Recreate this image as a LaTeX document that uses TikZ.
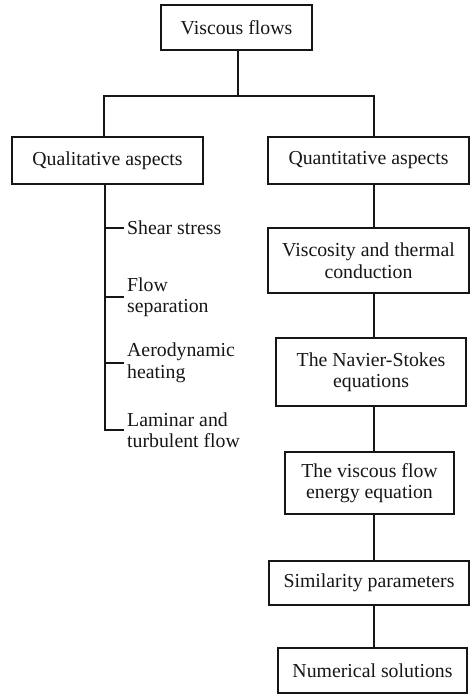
\documentclass[tikz,border=0pt]{standalone}
\usepackage{fontspec}
\setmainfont{Liberation Serif}
\usetikzlibrary{positioning,calc}
\definecolor{ink}{HTML}{161616}

\begin{document}
\begin{tikzpicture}[x=1pt,y=-1pt,font=\fontsize{19.8}{21.5}\selectfont]
    \tikzset{
      box/.style={draw=ink,line width=1.5pt,align=center,inner sep=0pt,text=ink},
      link/.style={draw=ink,line width=2.6pt},
      item/.style={anchor=west,align=left,inner sep=3pt,text=ink}
    }
    \useasboundingbox (0,0) rectangle (470,695);
    \node[box,minimum width=151pt,minimum height=45pt] (top) at (236.5,27.5) {Viscous flows};
    \node[box,minimum width=191pt,minimum height=47pt] (qual) at (107.5,160.5) {Qualitative aspects};
    \node[box,minimum width=201pt,minimum height=47pt] (quant) at (368.5,160.5) {Quantitative aspects};
    \node[box,minimum width=201pt,minimum height=65pt] (visc) at (368.5,260.5) {Viscosity and thermal\\conduction};
    \node[box,minimum width=190pt,minimum height=68pt] (ns) at (371,372) {The Navier-Stokes\\equations};
    \node[box,minimum width=169pt,minimum height=62pt] (energy) at (369.5,483) {The viscous flow\\energy equation};
    \node[box,minimum width=200pt,minimum height=44pt] (sim) at (369,583) {Similarity parameters};
    \node[box,minimum width=189pt,minimum height=45pt] (num) at (372.5,670.5) {Numerical solutions};
    \coordinate (barL) at (104,96);
    \coordinate (barR) at (374,96);
    \coordinate (spine) at (105,184);
    \draw[link] (top.south -| 238,0) -- (barL -| 238,0);
    \draw[link] (barL |- qual.north) -- (barL) -- (barR) -- (barR |- quant.north);
    \foreach \a/\b in {quant/visc,visc/ns,ns/energy,energy/sim,sim/num}
      \draw[link] (\a.south -| barR) -- (\b.north -| barR);
    % side items under the qualitative box
    \foreach \n/\y/\t in {shear/228/Shear stress,flow/297/Flow\\separation,aero/363/Aerodynamic\\heating,lam/430/Laminar and\\turbulent flow}
      \node[item] (\n) at (124,\y) {\t};
    \draw[link] (qual.south -| spine) |- (lam.west);
    \foreach \n in {shear,flow,aero}
      \draw[link] (\n.west -| spine) -- (\n.west);
\end{tikzpicture}
\end{document}
